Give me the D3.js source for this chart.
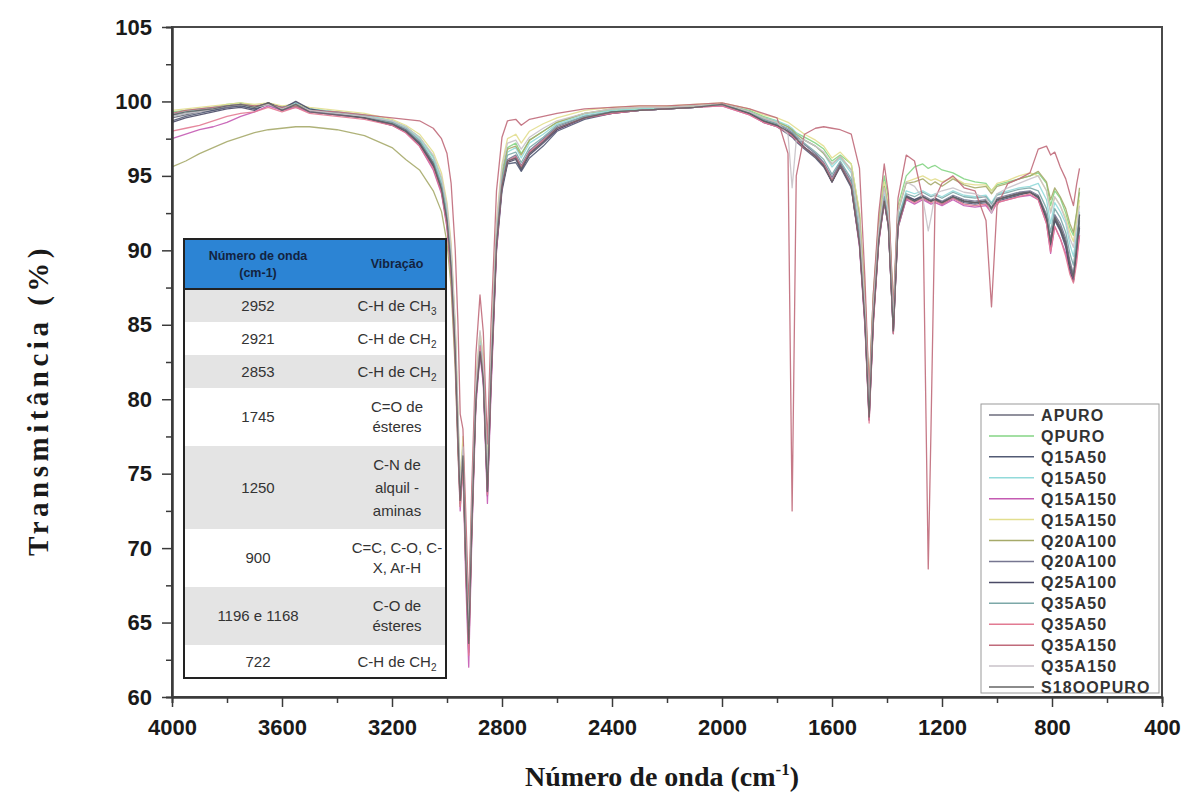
<!DOCTYPE html>
<html>
<head>
<meta charset="utf-8">
<script src="https://cdn.jsdelivr.net/npm/d3@7/dist/d3.min.js"></script>
<style>
  body { margin: 0; background: #fff; }
</style>
</head>
<body>
<svg id="chart" width="1190" height="798"></svg>
<script>
// wavenumber grid (cm-1) shared by all spectra
const wavenumbers = [
  4000, 3950, 3900, 3850, 3800, 3750, 3700, 3650, 3600, 3550,
  3500, 3400, 3300, 3200, 3150, 3100, 3050, 3020, 3000, 2985,
  2970, 2960, 2952, 2942, 2932, 2921, 2910, 2895, 2880, 2868,
  2853, 2840, 2820, 2800, 2780, 2750, 2730, 2700, 2650, 2600,
  2500, 2400, 2300, 2200, 2100, 2000, 1950, 1900, 1850, 1800,
  1760, 1745, 1730, 1700, 1660, 1630, 1600, 1570, 1530, 1500,
  1480, 1465, 1450, 1430, 1410, 1395, 1377, 1360, 1330, 1300,
  1270, 1250, 1240, 1225, 1200, 1160, 1120, 1080, 1040, 1020,
  1000, 960, 920, 880, 850, 820, 805, 790, 770, 750,
  735, 722, 710, 700
];

const apuro = [
  98.9, 99.1, 99.3, 99.4, 99.6, 99.7, 99.5, 99.8, 99.4, 99.7,
  99.3, 99.1, 98.9, 98.5, 98.0, 97.2, 95.8, 94.2, 92.0, 89.0,
  83.0, 77.0, 73.0, 76.0, 69.0, 63.5, 71.5, 80.0, 83.0, 81.5,
  74.0, 81.5, 90.5, 94.5, 96.0, 96.3, 95.6, 96.6, 97.4, 98.2,
  98.9, 99.3, 99.4, 99.5, 99.6, 99.8, 99.5, 99.2, 98.7, 98.4,
  98.0, 97.8, 97.5, 96.9, 96.4, 95.8, 94.7, 95.8, 94.4, 90.6,
  85.4, 79.0, 85.5, 90.8, 93.4, 91.8, 84.8, 91.8, 93.6, 93.3,
  93.6, 93.4, 93.3, 93.5, 93.2, 93.6, 93.3, 93.2, 93.3, 92.8,
  93.4, 93.6, 93.8, 93.9, 93.6, 92.3, 90.5, 92.3, 91.6, 90.6,
  89.0, 88.2, 90.2, 91.6
];
const qpuro = [
  99.3, 99.4, 99.5, 99.6, 99.8, 99.9, 99.7, 99.8, 99.6, 99.7,
  99.5, 99.3, 99.1, 98.7, 98.3, 97.6, 96.3, 94.8, 92.8, 90.0,
  84.5, 78.5, 74.0, 77.0, 70.5, 65.5, 72.5, 81.0, 84.0, 82.5,
  75.0, 82.5, 91.5, 95.3, 96.9, 97.2, 96.5, 97.4, 98.0, 98.6,
  99.2, 99.4, 99.5, 99.6, 99.7, 99.8, 99.6, 99.4, 99.0, 98.7,
  98.3, 98.1, 97.9, 97.6, 97.2, 96.8, 96.0, 96.4, 95.8, 92.5,
  87.0, 80.5, 87.0, 92.0, 95.0, 93.5, 86.0, 93.0, 95.0, 95.6,
  95.8, 95.5, 95.6, 95.7, 95.4, 95.2, 94.8, 94.6, 94.5, 94.0,
  94.4, 94.6, 94.8, 95.0, 95.2, 94.5, 93.0, 94.0, 93.5, 92.5,
  91.5, 91.0, 92.5, 93.9
];
const q15a50a = [
  98.7, 99.0, 99.2, 99.4, 99.6, 99.7, 99.5, 99.9, 99.6, 99.9,
  99.4, 99.2, 98.9, 98.5, 98.1, 97.2, 95.7, 94.0, 91.8, 88.5,
  83.0, 77.5, 73.0, 76.0, 69.0, 63.0, 71.0, 80.0, 83.5, 81.5,
  73.5, 81.0, 90.0, 94.0, 95.8, 95.9, 95.3, 96.2, 97.0, 98.0,
  98.8, 99.2, 99.4, 99.5, 99.6, 99.8, 99.5, 99.2, 98.6, 98.3,
  97.8, 97.6, 97.3, 96.8, 96.2, 95.6, 94.6, 95.6, 94.2, 90.4,
  85.0, 78.8, 85.2, 90.6, 93.2, 91.6, 84.5, 91.5, 93.5, 93.3,
  93.5, 93.3, 93.3, 93.4, 93.1, 93.5, 93.2, 93.1, 93.2, 92.7,
  93.3, 93.5, 93.7, 93.9, 93.5, 92.0, 90.2, 92.0, 91.3, 90.2,
  88.8, 88.0, 89.8, 91.5
];
const q15a50b = [
  99.2, 99.3, 99.5, 99.6, 99.7, 99.8, 99.6, 99.8, 99.5, 99.9,
  99.5, 99.3, 99.1, 98.7, 98.3, 97.5, 96.2, 94.6, 92.6, 89.8,
  84.2, 78.2, 73.8, 76.8, 70.2, 64.5, 72.2, 80.8, 83.8, 82.2,
  74.8, 82.2, 91.2, 95.0, 96.6, 96.9, 96.2, 97.2, 97.8, 98.5,
  99.1, 99.4, 99.5, 99.6, 99.7, 99.8, 99.6, 99.3, 98.9, 98.7,
  98.4, 98.2, 97.9, 97.4, 97.0, 96.5, 95.6, 96.2, 95.2, 91.8,
  86.2, 79.8, 86.2, 91.2, 93.8, 92.2, 85.2, 92.2, 94.0, 93.8,
  94.0, 93.8, 93.7, 93.8, 93.6, 94.0, 93.7, 93.6, 93.7, 93.2,
  93.8, 94.0, 94.2, 94.3, 94.5, 93.4, 91.8, 93.2, 92.6, 91.8,
  90.4, 89.6, 91.2, 92.6
];
const q15a150a = [
  97.5, 97.8, 98.1, 98.3, 98.6, 99.0, 99.3, 99.7, 99.4, 99.6,
  99.3, 99.1, 98.9, 98.4, 97.9, 97.0, 95.4, 93.8, 91.5, 88.2,
  82.5, 76.5, 72.5, 75.5, 68.0, 62.0, 70.5, 79.5, 83.0, 81.0,
  73.0, 80.5, 90.0, 94.3, 96.0, 96.2, 95.5, 96.5, 97.3, 98.1,
  98.9, 99.2, 99.4, 99.5, 99.6, 99.7, 99.4, 99.1, 98.6, 98.3,
  97.9, 97.7, 97.4, 96.9, 96.3, 95.7, 94.6, 95.7, 94.3, 90.2,
  84.8, 78.6, 85.0, 90.5, 93.2, 91.6, 84.6, 91.6, 93.4, 93.1,
  93.4, 93.2, 93.1, 93.2, 93.0, 93.4, 93.0, 92.9, 93.0, 92.5,
  93.2, 93.4, 93.6, 93.7, 93.4, 91.8, 89.8, 91.6, 90.8, 89.8,
  88.6, 88.0, 89.6, 91.0
];
const q15a150b = [
  99.4, 99.5, 99.6, 99.7, 99.8, 99.9, 99.8, 99.9, 99.7, 99.8,
  99.6, 99.4, 99.2, 98.8, 98.4, 97.8, 96.6, 95.2, 93.2, 90.5,
  85.0, 79.0, 74.5, 77.5, 71.0, 65.0, 73.0, 81.5, 84.5, 83.0,
  75.5, 83.0, 92.0, 95.8, 97.5, 97.8, 97.2, 98.0, 98.5, 98.9,
  99.4, 99.6, 99.7, 99.7, 99.8, 99.9, 99.7, 99.5, 99.1, 98.9,
  98.6, 98.4, 98.2, 97.8, 97.4, 97.0, 96.2, 96.6, 95.8, 92.6,
  87.0, 80.5, 86.8, 91.8, 94.6, 93.0, 86.0, 92.8, 94.6, 94.8,
  95.0, 94.8, 94.7, 94.8, 94.6, 94.9, 94.5, 94.4, 94.4, 94.0,
  94.5, 94.7, 95.0, 95.2, 95.0, 94.0, 92.6, 93.6, 93.0, 92.2,
  91.2, 90.6, 92.0, 93.4
];
const q20a100a = [
  95.6, 96.0, 96.5, 96.9, 97.3, 97.6, 97.9, 98.1, 98.2, 98.3,
  98.3, 98.1, 97.7, 96.9, 96.1, 95.4, 94.0, 92.6, 90.5, 87.5,
  82.0, 76.5, 72.8, 75.8, 69.0, 63.5, 71.2, 80.2, 83.2, 81.8,
  74.2, 81.8, 91.0, 95.0, 96.8, 97.0, 96.4, 97.4, 98.0, 98.6,
  99.2, 99.5, 99.6, 99.6, 99.7, 99.8, 99.6, 99.3, 98.9, 98.6,
  98.3, 98.1, 97.8, 97.4, 97.0, 96.5, 95.8, 96.3, 95.4, 92.2,
  86.5, 80.0, 86.5, 91.5, 94.3, 92.8, 85.8, 92.6, 94.5, 94.6,
  94.8, 94.5, 94.4, 94.6, 94.3, 94.8, 94.4, 94.2, 94.3, 93.8,
  94.3, 94.5, 94.8, 95.0, 95.3, 94.6, 93.4, 94.2, 93.6, 92.8,
  91.8, 91.2, 92.6, 94.2
];
const q20a100b = [
  99.1, 99.2, 99.4, 99.5, 99.6, 99.8, 99.6, 99.9, 99.5, 99.8,
  99.4, 99.2, 99.0, 98.6, 98.1, 97.3, 95.9, 94.3, 92.2, 89.2,
  83.5, 77.8, 73.4, 76.4, 69.8, 64.2, 71.8, 80.3, 83.4, 81.8,
  74.3, 81.8, 90.8, 94.6, 96.1, 96.4, 95.7, 96.7, 97.5, 98.3,
  99.0, 99.3, 99.4, 99.5, 99.6, 99.8, 99.5, 99.3, 98.8, 98.5,
  98.1, 97.9, 97.6, 97.1, 96.5, 95.9, 94.9, 95.9, 94.6, 91.0,
  85.6, 79.2, 85.8, 90.9, 93.5, 91.9, 85.0, 92.0, 93.7, 93.4,
  93.7, 93.5, 93.4, 93.5, 93.3, 93.7, 93.4, 93.3, 93.4, 92.9,
  93.5, 93.7, 93.9, 94.0, 93.7, 92.4, 90.7, 92.4, 91.8, 90.8,
  89.3, 88.4, 90.4, 92.0
];
const q25a100 = [
  98.6, 98.9, 99.1, 99.3, 99.5, 99.6, 99.4, 99.9, 99.5, 100.0,
  99.5, 99.2, 98.9, 98.4, 98.0, 97.1, 95.6, 94.0, 91.8, 88.8,
  83.2, 77.3, 73.2, 76.2, 69.5, 63.8, 71.5, 80.2, 83.3, 81.6,
  73.8, 81.3, 90.3, 94.2, 95.9, 96.1, 95.4, 96.4, 97.2, 98.1,
  98.9, 99.2, 99.4, 99.5, 99.6, 99.8, 99.5, 99.2, 98.7, 98.4,
  97.9, 97.7, 97.4, 96.9, 96.3, 95.7, 94.6, 95.7, 94.3, 90.5,
  85.2, 78.6, 85.3, 90.7, 93.3, 91.7, 84.4, 91.7, 93.6, 93.4,
  93.6, 93.4, 93.3, 93.5, 93.2, 93.6, 93.3, 93.2, 93.3, 92.8,
  93.4, 93.6, 93.8, 93.9, 93.6, 92.1, 90.4, 92.1, 91.4, 90.4,
  88.6, 87.9, 90.0, 92.4
];
const q35a50a = [
  99.0, 99.2, 99.4, 99.5, 99.7, 99.8, 99.6, 99.8, 99.6, 99.8,
  99.4, 99.2, 99.0, 98.6, 98.2, 97.4, 96.0, 94.4, 92.4, 89.4,
  83.8, 77.8, 73.6, 76.6, 70.0, 64.5, 72.0, 80.6, 83.6, 82.0,
  74.6, 82.0, 91.0, 94.8, 96.4, 96.6, 95.9, 96.9, 97.6, 98.4,
  99.0, 99.3, 99.4, 99.5, 99.6, 99.8, 99.5, 99.3, 98.8, 98.5,
  98.2, 98.0, 97.7, 97.2, 96.6, 96.1, 95.1, 96.0, 94.8, 91.2,
  85.8, 79.3, 85.8, 91.0, 93.6, 92.1, 85.0, 92.1, 93.8, 93.6,
  93.9, 93.7, 93.6, 93.7, 93.5, 93.9, 93.6, 93.5, 93.6, 93.1,
  93.7, 93.9, 94.1, 94.2, 94.0, 92.8, 91.2, 92.8, 92.2, 91.2,
  89.8, 89.0, 90.8, 92.2
];
const q35a50b = [
  98.0, 98.2, 98.4, 98.7, 99.0, 99.2, 99.3, 99.6, 99.3, 99.6,
  99.2, 99.0, 98.8, 98.4, 97.9, 97.0, 95.5, 93.9, 91.6, 88.4,
  82.8, 77.0, 72.8, 75.8, 68.8, 62.8, 71.0, 80.0, 83.6, 81.4,
  73.6, 81.0, 90.3, 94.4, 96.0, 96.3, 95.6, 96.6, 97.4, 98.2,
  98.9, 99.2, 99.4, 99.5, 99.6, 99.7, 99.4, 99.1, 98.6, 98.3,
  97.9, 97.7, 97.4, 96.9, 96.3, 95.8, 94.7, 95.7, 94.4, 90.4,
  85.0, 78.4, 85.0, 90.6, 93.3, 91.7, 84.4, 91.6, 93.5, 93.2,
  93.5, 93.3, 93.2, 93.3, 93.1, 93.5, 93.1, 93.0, 93.1, 92.6,
  93.2, 93.4, 93.6, 93.8, 93.4, 91.8, 89.9, 91.6, 90.8, 89.6,
  88.4, 87.8, 89.2, 91.0
];
const q35a150a = [
  99.2, 99.4, 99.5, 99.6, 99.7, 99.8, 99.7, 99.8, 99.6, 99.7,
  99.4, 99.3, 99.1, 98.9, 98.8, 98.7, 98.2, 97.5, 96.5, 94.5,
  90.0, 85.0, 79.0, 78.0, 72.5, 66.0, 74.0, 83.0, 87.0, 84.5,
  77.0, 85.0, 94.0, 97.6, 98.7, 98.8, 98.4, 98.8, 99.0, 99.2,
  99.5, 99.6, 99.7, 99.7, 99.8, 99.9, 99.7, 99.5, 99.2, 98.9,
  96.5, 72.5, 95.0, 97.8, 98.2, 98.3, 98.2, 98.1, 97.8, 95.5,
  88.0, 80.5, 87.0, 92.5, 95.8, 93.8, 86.0, 93.5, 96.4, 96.0,
  93.5, 68.6, 78.0, 93.5, 94.5, 95.0, 94.2, 94.0, 92.0, 86.2,
  93.0, 94.5, 94.8, 95.2, 96.8, 97.0, 96.4, 96.6, 95.6, 94.8,
  93.8, 93.0, 94.5, 95.5
];
const q35a150b = [
  99.0, 99.2, 99.3, 99.5, 99.7, 99.8, 99.6, 99.8, 99.5, 99.8,
  99.4, 99.2, 99.0, 98.7, 98.3, 97.6, 96.4, 94.9, 93.0, 90.2,
  85.0, 79.0, 74.2, 76.8, 70.3, 64.6, 72.4, 81.0, 84.6, 82.4,
  75.0, 82.8, 91.8, 95.6, 97.2, 97.4, 96.8, 97.6, 98.2, 98.7,
  99.2, 99.5, 99.6, 99.6, 99.7, 99.8, 99.6, 99.3, 98.9, 98.6,
  97.8, 94.2, 97.4, 97.4, 97.0, 96.6, 95.8, 96.3, 95.4, 92.0,
  86.2, 79.6, 86.2, 91.4, 94.2, 92.6, 85.4, 92.6, 94.6, 94.3,
  93.5, 91.3, 92.2, 93.8, 94.0, 94.2, 93.9, 93.8, 93.5, 92.5,
  93.8, 94.2, 94.5, 94.8, 95.0, 94.0, 92.5, 93.6, 93.0, 92.0,
  90.8, 90.2, 91.6, 93.0
];
const s18oopuro = [
  99.1, 99.3, 99.4, 99.5, 99.7, 99.8, 99.6, 99.9, 99.4, 99.8,
  99.3, 99.1, 98.9, 98.5, 98.0, 97.2, 95.8, 94.1, 92.0, 88.8,
  83.2, 77.4, 73.2, 76.2, 69.4, 63.6, 71.4, 80.0, 83.2, 81.4,
  73.8, 81.4, 90.4, 94.3, 96.0, 96.2, 95.5, 96.5, 97.3, 98.2,
  98.9, 99.3, 99.4, 99.5, 99.6, 99.8, 99.5, 99.2, 98.7, 98.4,
  98.0, 97.8, 97.5, 96.9, 96.3, 95.7, 94.6, 95.7, 94.3, 90.4,
  85.2, 78.8, 85.3, 90.7, 93.3, 91.7, 84.6, 91.7, 93.6, 93.3,
  93.6, 93.4, 93.3, 93.4, 93.2, 93.6, 93.3, 93.2, 93.3, 92.8,
  93.4, 93.6, 93.8, 93.9, 93.6, 92.2, 90.5, 92.2, 91.5, 90.5,
  89.0, 88.2, 90.2, 92.4
];

const seriesNames = ["APURO", "QPURO", "Q15A50", "Q15A50", "Q15A150", "Q15A150", "Q20A100",
  "Q20A100", "Q25A100", "Q35A50", "Q35A50", "Q35A150", "Q35A150", "S18OOPURO"];
const seriesValues = [apuro, qpuro, q15a50a, q15a50b, q15a150a, q15a150b, q20a100a,
  q20a100b, q25a100, q35a50a, q35a50b, q35a150a, q35a150b, s18oopuro];
const seriesColors = ["#6c6c7c", "#84d484", "#525a74", "#92dada", "#c45ab2", "#e2de8e", "#a6aa6a",
  "#767690", "#4a4a66", "#7ca8a8", "#e27a92", "#c06a7a", "#c8c2c8", "#646464"];

const xTicks = [4000, 3600, 3200, 2800, 2400, 2000, 1600, 1200, 800, 400];
const xMinorTicks = [3800, 3400, 3000, 2600, 2200, 1800, 1400, 1000, 600];
const yTicks = [60, 65, 70, 75, 80, 85, 90, 95, 100, 105];
const yMinorTicks = [62.5, 67.5, 72.5, 77.5, 82.5, 87.5, 92.5, 97.5, 102.5];

// inset table
const tableHeader = [["Número de onda", "(cm-1)"], ["Vibração"]];
const tableWave = ["2952", "2921", "2853", "1745", "1250", "900", "1196 e 1168", "722"];
const tableVib = [
  ["C-H de CH{3}"],
  ["C-H de CH{2}"],
  ["C-H de CH{2}"],
  ["C=O de", "ésteres"],
  ["C-N de", "alquil -", "aminas"],
  ["C=C, C-O, C-", "X, Ar-H"],
  ["C-O de", "ésteres"],
  ["C-H de CH{2}"]
];

const svg = d3.select("#chart");
const plotLeft = 172, plotRight = 1162, plotTop = 27, plotBottom = 697;

const x = d3.scaleLinear().domain([4000, 400]).range([plotLeft, plotRight]);
const y = d3.scaleLinear().domain([60, 105]).range([plotBottom, plotTop]);

// frame
svg.append("rect")
  .attr("x", plotLeft).attr("y", plotTop)
  .attr("width", plotRight - plotLeft).attr("height", plotBottom - plotTop)
  .attr("fill", "none").attr("stroke", "#4a4a4a").attr("stroke-width", 2);

// spectra
const line = d3.line().x(d => x(d[0])).y(d => y(d[1]));
svg.append("g")
  .selectAll("path")
  .data(seriesValues)
  .join("path")
  .attr("d", vals => line(d3.zip(wavenumbers, vals)))
  .attr("fill", "none")
  .attr("stroke", (d, i) => seriesColors[i])
  .attr("stroke-width", 1.3)
  .attr("stroke-linejoin", "round")
  .attr("opacity", 0.9);

// axes
const styleAxis = g => {
  g.select(".domain").attr("stroke", "#3a3a3a").attr("stroke-width", 2);
  g.selectAll(".tick line").attr("stroke", "#3a3a3a").attr("stroke-width", 1.5);
  g.selectAll("text")
    .attr("font-family", "Liberation Sans, Arial, sans-serif")
    .attr("font-weight", "bold")
    .attr("font-size", 22)
    .attr("fill", "#1a1a1a");
};

svg.append("g")
  .attr("transform", `translate(0,${plotBottom})`)
  .call(d3.axisBottom(x).tickValues(xMinorTicks).tickSize(6).tickFormat(""))
  .call(styleAxis);
svg.append("g")
  .attr("transform", `translate(0,${plotBottom})`)
  .call(d3.axisBottom(x).tickValues(xTicks).tickSize(10).tickPadding(12)
    .tickSizeOuter(0).tickFormat(d3.format("d")))
  .call(styleAxis);

svg.append("g")
  .attr("transform", `translate(${plotLeft},0)`)
  .call(d3.axisLeft(y).tickValues(yMinorTicks).tickSize(6).tickFormat(""))
  .call(styleAxis);
svg.append("g")
  .attr("transform", `translate(${plotLeft},0)`)
  .call(d3.axisLeft(y).tickValues(yTicks).tickSize(10).tickPadding(10)
    .tickSizeOuter(0).tickFormat(d3.format("d")))
  .call(styleAxis);

// axis titles
svg.append("text")
  .attr("transform", "translate(48,400) rotate(-90)")
  .attr("text-anchor", "middle")
  .attr("font-family", "Liberation Serif, Times New Roman, serif")
  .attr("font-weight", "bold")
  .attr("font-size", 29)
  .attr("letter-spacing", 4.5)
  .attr("fill", "#1a1a1a")
  .text("Transmitância (%)");

const xTitle = svg.append("text")
  .attr("x", 662).attr("y", 786)
  .attr("text-anchor", "middle")
  .attr("font-family", "Liberation Serif, Times New Roman, serif")
  .attr("font-weight", "bold")
  .attr("font-size", 28)
  .attr("fill", "#1a1a1a");
xTitle.append("tspan").text("Número de onda (cm");
xTitle.append("tspan").attr("dy", -11).attr("font-size", 17).text("-1");
xTitle.append("tspan").attr("dy", 11).text(")");

// inset table
const tbl = { x: 184, y: 239, w: 262, headH: 50, col1: 258, col2: 397 };
const rowH = tableVib.map(v => v.length === 1 ? 33 : v.length === 2 ? 58 : 83);
const rowTop = rowH.map((h, i) => tbl.y + tbl.headH + d3.sum(rowH.slice(0, i)));
const tableG = svg.append("g");
const tblH = tbl.headH + d3.sum(rowH);

tableG.append("rect")
  .attr("x", tbl.x).attr("y", tbl.y).attr("width", tbl.w).attr("height", tblH)
  .attr("fill", "#fff");
tableG.append("rect")
  .attr("x", tbl.x).attr("y", tbl.y).attr("width", tbl.w).attr("height", tbl.headH)
  .attr("fill", "#2c84d4");
tableG.selectAll("rect.row")
  .data(rowH)
  .join("rect")
  .attr("class", "row")
  .attr("x", tbl.x).attr("y", (d, i) => rowTop[i])
  .attr("width", tbl.w).attr("height", d => d)
  .attr("fill", (d, i) => i % 2 === 0 ? "#e4e4e4" : "#ffffff");
tableG.append("line")
  .attr("x1", tbl.x).attr("x2", tbl.x + tbl.w)
  .attr("y1", tbl.y + tbl.headH).attr("y2", tbl.y + tbl.headH)
  .attr("stroke", "#222").attr("stroke-width", 2);
tableG.append("rect")
  .attr("x", tbl.x).attr("y", tbl.y).attr("width", tbl.w).attr("height", tblH)
  .attr("fill", "none").attr("stroke", "#222").attr("stroke-width", 2);

const headFont = g => g.attr("font-family", "Liberation Sans, Arial, sans-serif")
  .attr("font-weight", "bold").attr("font-size", 12.5).attr("fill", "#13233f")
  .attr("text-anchor", "middle");
tableHeader.forEach((lines, c) => {
  const cx = c === 0 ? tbl.col1 : tbl.col2;
  const cy = tbl.y + tbl.headH / 2;
  lines.forEach((t, k) => {
    tableG.append("text").call(headFont)
      .attr("x", cx)
      .attr("y", cy + (k - (lines.length - 1) / 2) * 17 + 4)
      .text(t);
  });
});

const bodyFont = g => g.attr("font-family", "Liberation Sans, Arial, sans-serif")
  .attr("font-size", 15).attr("fill", "#333").attr("text-anchor", "middle");

tableWave.forEach((w, i) => {
  const cy = rowTop[i] + rowH[i] / 2;
  const nLines = tableVib[i].length;
  const lineH = nLines === 3 ? 23 : 20;
  tableG.append("text").call(bodyFont)
    .attr("x", tbl.col1).attr("y", cy + 5).text(w);
  tableVib[i].forEach((t, k) => {
    const ty = cy + (k - (nLines - 1) / 2) * lineH + 5;
    const txt = tableG.append("text").call(bodyFont).attr("x", tbl.col2).attr("y", ty);
    const m = t.match(/^(.*)\{(\d)\}$/);
    if (m) {
      txt.append("tspan").text(m[1]);
      txt.append("tspan").attr("dy", 4).attr("font-size", 10).text(m[2]);
    } else {
      txt.text(t);
    }
  });
});

// legend
const legend = svg.append("g");
const legY = d3.scaleLinear().domain([0, seriesNames.length - 1]).range([415, 687]);
legend.append("rect")
  .attr("x", 981).attr("y", 404).attr("width", 178).attr("height", 289)
  .attr("fill", "#fff").attr("stroke", "#9a9a9a").attr("stroke-width", 1);
const items = legend.selectAll("g.item")
  .data(seriesNames)
  .join("g")
  .attr("class", "item")
  .attr("transform", (d, i) => `translate(0,${legY(i)})`);
items.append("line")
  .attr("x1", 989).attr("x2", 1034)
  .attr("stroke", (d, i) => seriesColors[i])
  .attr("stroke-width", 1.5);
items.append("text")
  .attr("x", 1041).attr("y", 6)
  .attr("font-family", "Liberation Sans, Arial, sans-serif")
  .attr("font-weight", "bold")
  .attr("font-size", 16)
  .attr("letter-spacing", 1.1)
  .attr("fill", "#333")
  .text(d => d);
</script>
</body>
</html>
